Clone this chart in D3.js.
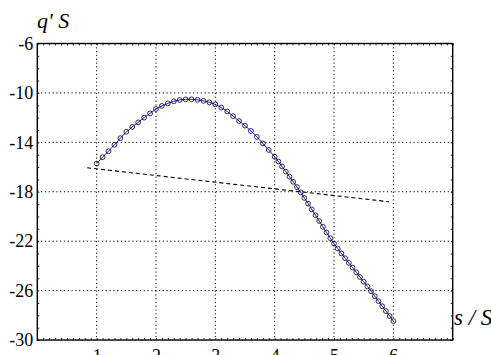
<!DOCTYPE html>
<html>
<head>
<meta charset="utf-8">
<script src="https://cdn.jsdelivr.net/npm/d3@7/dist/d3.min.js"></script>
<style>
  body { margin: 0; background: #fff; }
  svg { display: block; }
</style>
</head>
<body>
<div id="app"></div>
<script>
// 数据：曲线采样点 (s/S, q'S)
const sVals = [1.0, 1.1, 1.2, 1.3, 1.4, 1.5, 1.6, 1.7, 1.8, 1.9,
  2.0, 2.1, 2.2, 2.3, 2.4, 2.5, 2.6, 2.7, 2.8, 2.9,
  3.0, 3.1, 3.2, 3.3, 3.4, 3.5, 3.6, 3.7, 3.8, 3.9,
  4.0, 4.0625, 4.125, 4.1875, 4.25, 4.3125, 4.375, 4.4375, 4.5, 4.5625,
  4.625, 4.6875, 4.75, 4.8125, 4.875, 4.9375, 5.0, 5.0625, 5.125, 5.1875,
  5.25, 5.3125, 5.375, 5.4375, 5.5, 5.5625, 5.625, 5.6875, 5.75, 5.8125,
  5.875, 5.9375, 6.0];
const qVals = [-15.72, -15.2, -14.72, -14.2, -13.66, -13.15, -12.75, -12.38, -12.0, -11.66,
  -11.3, -11.05, -10.85, -10.68, -10.57, -10.52, -10.52, -10.56, -10.64, -10.76,
  -10.93, -11.18, -11.5, -11.88, -12.28, -12.65, -13.08, -13.56, -14.08, -14.62,
  -15.17, -15.55, -15.96, -16.37, -16.78, -17.2, -17.62, -18.05, -18.5, -18.96,
  -19.43, -19.9, -20.37, -20.84, -21.3, -21.76, -22.2, -22.6, -22.99, -23.38,
  -23.76, -24.14, -24.52, -24.9, -25.28, -25.66, -26.05, -26.45, -26.86, -27.27,
  -27.66, -28.06, -28.47];

// 虚线（切线）端点
const dashS = [0.84, 5.93];
const dashQ = [-16.06, -18.81];

const xTicks = [1, 2, 3, 4, 5, 6];
const yTicks = [-6, -10, -14, -18, -22, -26, -30];

const W = 491, H = 355;
const mLeft = 37.3, mRight = 452.7, mTop = 43.5, mBottom = 340;
const FONT = "Liberation Serif";

const x = d3.scaleLinear().domain([0, 7]).range([mLeft, mRight]);
const y = d3.scaleLinear().domain([-30, -6]).range([mBottom, mTop]);

const svg = d3.select("#app").append("svg")
  .attr("width", W).attr("height", H);

// 网格线（点线）
const grid = svg.append("g");
grid.selectAll("line.gx")
  .data(xTicks)
  .join("line")
  .attr("class", "gx")
  .attr("x1", d => x(d)).attr("x2", d => x(d))
  .attr("y1", mTop).attr("y2", mBottom)
  .attr("stroke", "#000").attr("stroke-width", 1)
  .attr("stroke-dasharray", "1.2,2.6");
grid.selectAll("line.gy")
  .data(yTicks.filter(d => d > -30 && d < -6))
  .join("line")
  .attr("class", "gy")
  .attr("x1", mLeft).attr("x2", mRight)
  .attr("y1", d => y(d)).attr("y2", d => y(d))
  .attr("stroke", "#000").attr("stroke-width", 1)
  .attr("stroke-dasharray", "1.2,2.6");

// 小刻度（四边向内）
const minor = (axis, tr) => svg.append("g")
  .attr("transform", tr)
  .call(axis.tickFormat("").tickSizeOuter(0))
  .call(g => g.select(".domain").remove())
  .call(g => g.selectAll("line").attr("stroke", "#000").attr("stroke-width", 0.8));
minor(d3.axisLeft(y).ticks(24).tickSize(-2), `translate(${mLeft},0)`);
minor(d3.axisRight(y).ticks(24).tickSize(-2), `translate(${mRight},0)`);
minor(d3.axisBottom(x).ticks(70).tickSize(-2), `translate(0,${mBottom})`);
minor(d3.axisTop(x).ticks(70).tickSize(-2), `translate(0,${mTop})`);

// 外框
svg.append("rect")
  .attr("x", mLeft).attr("y", mTop)
  .attr("width", mRight - mLeft).attr("height", mBottom - mTop)
  .attr("fill", "none").attr("stroke", "#000").attr("stroke-width", 1.4);

// 刻度标签（普通连字符）
const fmt = d => String(d);
svg.append("g")
  .attr("transform", `translate(${mLeft},0)`)
  .call(d3.axisLeft(y).tickValues(yTicks).tickFormat(fmt).tickSize(0).tickPadding(4))
  .call(g => g.select(".domain").remove())
  .call(g => g.selectAll("text").attr("fill", "#000")
    .attr("font-family", FONT).attr("font-size", 18));

svg.append("g")
  .attr("transform", `translate(0,${mBottom})`)
  .call(d3.axisBottom(x).tickValues(xTicks).tickFormat(fmt).tickSize(0).tickPadding(9))
  .call(g => g.select(".domain").remove())
  .call(g => g.selectAll("text").attr("fill", "#000")
    .attr("font-family", FONT).attr("font-size", 18));

// 轴标题
svg.append("text")
  .attr("x", 37).attr("y", 28)
  .attr("font-family", FONT)
  .attr("font-size", 22).attr("font-style", "italic")
  .text("q' S");
svg.append("text")
  .attr("x", 454).attr("y", 325)
  .attr("font-family", FONT)
  .attr("font-size", 23).attr("font-style", "italic")
  .text("s / S");

// 虚线
svg.append("line")
  .attr("x1", x(dashS[0])).attr("y1", y(dashQ[0]))
  .attr("x2", x(dashS[1])).attr("y2", y(dashQ[1]))
  .attr("stroke", "#000").attr("stroke-width", 1.1)
  .attr("stroke-dasharray", "4,3");

// 曲线 + 空心圆点
const pts = sVals.map((s, i) => [s, qVals[i]]);
svg.append("path")
  .datum(pts)
  .attr("d", d3.line().x(d => x(d[0])).y(d => y(d[1])))
  .attr("fill", "none").attr("stroke", "#0000ff").attr("stroke-width", 0.9);

svg.append("g")
  .selectAll("circle")
  .data(pts)
  .join("circle")
  .attr("cx", d => x(d[0])).attr("cy", d => y(d[1]))
  .attr("r", 2.4)
  .attr("fill", "none").attr("stroke", "#000").attr("stroke-width", 0.8);
</script>
</body>
</html>
